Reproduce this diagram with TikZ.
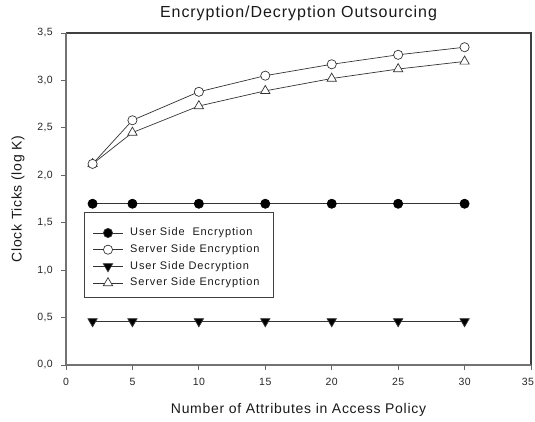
\documentclass[tikz,border=0pt]{standalone}
\usepackage{fontspec}
\setmainfont{Liberation Sans}
\usetikzlibrary{positioning, plotmarks}
\tikzset{
    axisline/.style = {draw=black!55, line width=1.4pt},
    frameline/.style = {draw=black!75, line width=1.1pt},
    tickmark/.style = {draw=black!60, line width=0.8pt},
    ticklabel/.style = {font=\fontsize{10.5}{12}\selectfont\addfontfeatures{LetterSpace=4}, text=black!85, inner sep=0pt},
    axistitle/.style = {font=\fontsize{14}{16}\selectfont\addfontfeatures{LetterSpace=5}, text=black!90, inner sep=0pt},
    series/.style = {draw=black!80, line width=0.7pt, mark size=4.6pt,
        mark options={draw=black, line width=0.7pt, solid}},
    dot/.style = {mark=*, mark size=4.6pt},
    tri/.style = {mark=triangle*, mark size=5.4pt},
    legendbox/.style = {draw=black!75, line width=0.9pt},
    legendtext/.style = {font=\fontsize{11}{13}\selectfont\addfontfeatures{LetterSpace=8}, text=black!90, anchor=west, inner sep=0pt}
}

\begin{document}
\begin{tikzpicture}[x=13.286pt, y=94.86pt]

    \useasboundingbox (-66pt,-57pt) rectangle (469pt,365pt);

    % Frame
    \draw[frameline] (0,3.5) -- (35,3.5) -- (35,0);
    \draw[axisline] (0,3.5) -- (0,0) -- (35,0);

    % Ticks
    \foreach \y/\lab [count=\k] in {0/{0,0},0.5/{0,5},1/{1,0},1.5/{1,5},2/{2,0},2.5/{2,5},3/{3,0},3.5/{3,5}}{
        \draw[tickmark] (0,\y) -- ++(-5pt,0);
        \node[ticklabel, anchor=east] (ylab-\k) at ([xshift=-13pt]0,\y) {\lab};
    }
    \foreach \x in {0,5,...,35}{
        \draw[tickmark] (\x,0) -- ++(0,-5pt);
    }
    \foreach \x in {0,5,...,30}{
        \node[ticklabel] (xlab-\x) at ([yshift=-17pt]\x,0) {\x};
    }
    \node[ticklabel] (xlab-35) at ([xshift=-3pt, yshift=-17pt]35,0) {35};

    % Titles
    \node[font=\fontsize{16}{18}\selectfont\addfontfeatures{LetterSpace=6}, text=black!90, inner sep=0pt] (title) at ([yshift=20pt]17.5,3.5) {Encryption/Decryption Outsourcing};
    \node[axistitle] (xtitle) at ([yshift=-45pt]17.5,0) {Number of Attributes in Access Policy};
    \node[axistitle, rotate=90] (ytitle) at ([xshift=-48pt]0,1.75) {Clock Ticks (log K)};

    % Data
    \draw[series, dot] plot coordinates {(2,1.70) (5,1.70) (10,1.70) (15,1.70) (20,1.70) (25,1.70) (30,1.70)};
    \draw[series, tri, mark options={rotate=180, fill=black}] plot coordinates {(2,0.46) (5,0.46) (10,0.46) (15,0.46) (20,0.46) (25,0.46) (30,0.46)};
    \draw[series, tri, mark options={fill=white}] plot coordinates {(2,2.12) (5,2.45) (10,2.73) (15,2.89) (20,3.02) (25,3.12) (30,3.20)};
    \draw[series, dot, mark options={fill=white}] plot coordinates {(2,2.12) (5,2.58) (10,2.88) (15,3.05) (20,3.17) (25,3.27) (30,3.35)};

    % Legend
    \draw[legendbox] (1.355,1.613) rectangle (15.6,0.707);
    \foreach \i/\lab/\mk/\fc/\rot in {0/{User Side\ \ Encryption}/dot/black/0,
                                      1/{Server Side Encryption}/dot/white/0,
                                      2/{User Side Decryption}/tri/black/180,
                                      3/{Server Side Encryption}/tri/white/0}{
        \coordinate (leg-\i) at ([yshift=-21pt-16.7*\i pt]1.355,1.613);
        \draw[series, \mk, mark indices={2}, mark options={fill=\fc, rotate=\rot}]
            plot coordinates {([xshift=9pt]leg-\i) ([xshift=24pt]leg-\i) ([xshift=39pt]leg-\i)};
        \node[legendtext] (legtext-\i) at ([xshift=46pt]leg-\i) {\lab};
    }

\end{tikzpicture}
\end{document}
